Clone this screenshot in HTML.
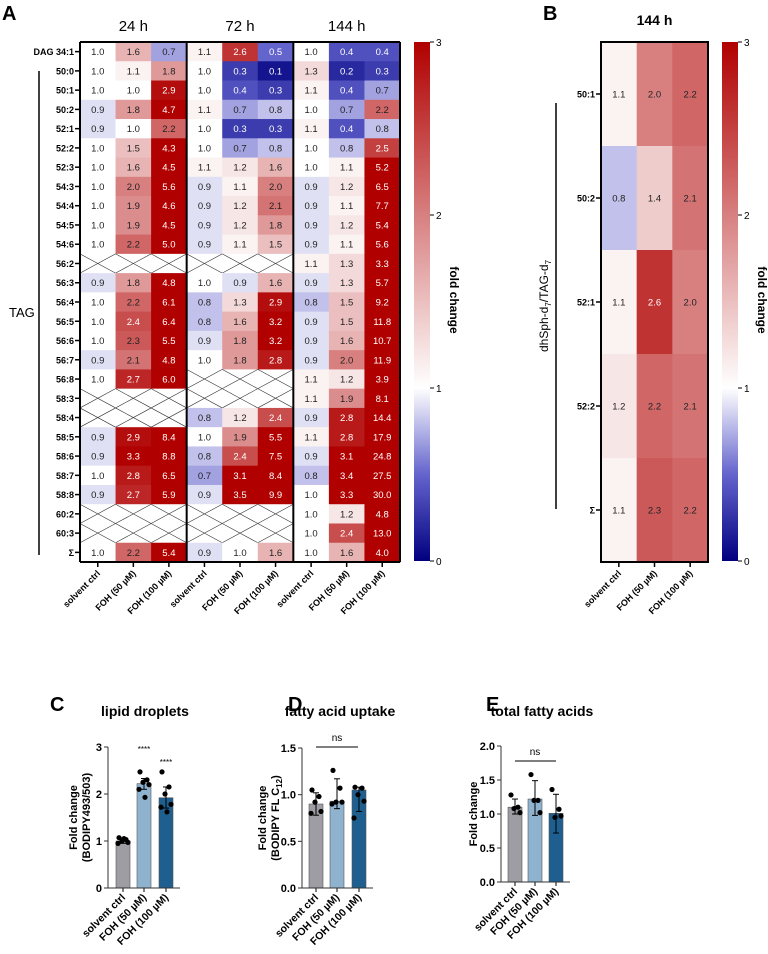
<!DOCTYPE html>
<html><head><meta charset="utf-8"><style>
body{margin:0;background:#fff}
svg{display:block;font-family:"Liberation Sans",Arial,sans-serif}
</style></head><body>
<svg id="fig" width="768" height="954" viewBox="0 0 768 954"></svg>
<script>
const rowLabels=["DAG 34:1","50:0","50:1","50:2","52:1","52:2","52:3","54:3","54:4","54:5","54:6","56:2","56:3","56:4","56:5","56:6","56:7","56:8","58:3","58:4","58:5","58:6","58:7","58:8","60:2","60:3","Σ"];
const groupLabels=["24 h","72 h","144 h"];
const colLabels=["solvent ctrl","FOH (50 µM)","FOH (100 µM)"];
const N=null;
const vals24=[[1.0,1.6,0.7],[1.0,1.1,1.8],[1.0,1.0,2.9],[0.9,1.8,4.7],[0.9,1.0,2.2],[1.0,1.5,4.3],[1.0,1.6,4.5],[1.0,2.0,5.6],[1.0,1.9,4.6],[1.0,1.9,4.5],[1.0,2.2,5.0],N,[0.9,1.8,4.8],[1.0,2.2,6.1],[1.0,2.4,6.4],[1.0,2.3,5.5],[0.9,2.1,4.8],[1.0,2.7,6.0],N,N,[0.9,2.9,8.4],[0.9,3.3,8.8],[1.0,2.8,6.5],[0.9,2.7,5.9],N,N,[1.0,2.2,5.4]];
const vals72=[[1.1,2.6,0.5],[1.0,0.3,0.1],[1.0,0.4,0.3],[1.1,0.7,0.8],[1.0,0.3,0.3],[1.0,0.7,0.8],[1.1,1.2,1.6],[0.9,1.1,2.0],[0.9,1.2,2.1],[0.9,1.2,1.8],[0.9,1.1,1.5],N,[1.0,0.9,1.6],[0.8,1.3,2.9],[0.8,1.6,3.2],[0.9,1.8,3.2],[1.0,1.8,2.8],N,N,[0.8,1.2,2.4],[1.0,1.9,5.5],[0.8,2.4,7.5],[0.7,3.1,8.4],[0.9,3.5,9.9],N,N,[0.9,1.0,1.6]];
const vals144=[[1.0,0.4,0.4],[1.3,0.2,0.3],[1.1,0.4,0.7],[1.0,0.7,2.2],[1.1,0.4,0.8],[1.0,0.8,2.5],[1.0,1.1,5.2],[0.9,1.2,6.5],[0.9,1.1,7.7],[0.9,1.2,5.4],[0.9,1.1,5.6],[1.1,1.3,3.3],[0.9,1.3,5.7],[0.8,1.5,9.2],[0.9,1.5,11.8],[0.9,1.6,10.7],[0.9,2.0,11.9],[1.1,1.2,3.9],[1.1,1.9,8.1],[0.9,2.8,14.4],[1.1,2.8,17.9],[0.9,3.1,24.8],[0.8,3.4,27.5],[1.0,3.3,30.0],[1.0,1.2,4.8],[1.0,2.4,13.0],[1.0,1.6,4.0]];
const bRowLabels=["50:1","50:2","52:1","52:2","Σ"];
const bVals=[[1.1,2.0,2.2],[0.8,1.4,2.1],[1.1,2.6,2.0],[1.2,2.2,2.1],[1.1,2.3,2.2]];
const cMeans=[1.0,2.22,1.92], cErrLo=[0.95,2.1,1.7], cErrHi=[1.05,2.33,2.15];
const cPts=[[1.07,1.03,1.0,0.97,0.95,1.05],[2.47,2.3,2.25,2.2,2.1,1.93],[2.47,2.15,2.0,1.78,1.72,1.62]];
const dMeans=[0.9,0.93,1.05], dErrLo=[0.78,0.85,0.82], dErrHi=[1.02,1.17,1.08];
const dPts=[[1.05,0.98,0.92,0.82,0.8],[1.26,1.07,0.92,0.92,0.9],[1.08,1.07,1.0,0.93,0.75]];
const eMeans=[1.1,1.22,1.01], eErrLo=[1.0,0.98,0.72], eErrHi=[1.22,1.49,1.29];
const ePts=[[1.28,1.1,1.08,1.02],[1.58,1.2,1.2,1.02],[1.36,1.07,0.95,0.97]];

const svg=document.getElementById('fig');
const NS='http://www.w3.org/2000/svg';
function mk(tag,attrs,parent,text){const e=document.createElementNS(NS,tag);for(const k in attrs)e.setAttribute(k,attrs[k]);if(text!==undefined)e.textContent=text;(parent||svg).appendChild(e);return e;}
function lerp(a,b,t){return Math.round(a+(b-a)*t);}
function color(v){
  if(v>=1){const t=Math.min((v-1)/2,1);return `rgb(${lerp(255,176,t)},${lerp(255,0,t)},${lerp(255,0,t)})`;}
  if(v>=0.5){const t=(1-v)/0.5;return `rgb(${lerp(255,100,t)},${lerp(255,100,t)},${lerp(255,205,t)})`;}
  const t=(0.5-v)/0.5;return `rgb(${lerp(100,0,t)},${lerp(100,0,t)},${lerp(205,128,t)})`;
}
function txtCol(v){return (v>=2.4||v<=0.5)?'#fff':'#222';}
const defs=mk('defs',{});
const lg=mk('linearGradient',{id:'cbar',x1:0,y1:0,x2:0,y2:1},defs);
[[0,'#b00000'],[0.6667,'#ffffff'],[0.8333,'rgb(100,100,205)'],[1,'#000080']].forEach(s=>mk('stop',{offset:s[0],'stop-color':s[1]},lg));

// ---- Panel A
mk('text',{x:2,y:20,'font-size':20,'font-weight':'bold'},svg,'A');
const ax0=80,ax1=400,ay0=42,ay1=562;
const nR=rowLabels.length, rh=(ay1-ay0)/nR, cw=(ax1-ax0)/9;
const ay=i=>ay0+i*rh, axc=(g,c)=>ax0+(g*3+c)*cw;
const groups=[vals24,vals72,vals144];
const gA=mk('g',{});


groups.forEach((vals,g)=>{
  mk('text',{x:ax0+(g*3+1.5)*cw,y:31,'font-size':15,'text-anchor':'middle'},gA,groupLabels[g]);
  vals.forEach((row,i)=>{
    for(let c=0;c<3;c++){
      const x=axc(g,c),y=ay(i);
      if(row===null){
        mk('rect',{x:x,y:y,width:cw,height:rh,fill:'#fff'},gA);
        mk('path',{d:`M${x},${y}L${x+cw},${y+rh}M${x+cw},${y}L${x},${y+rh}`,stroke:'#333','stroke-width':0.6},gA);
      }else{
        const v=row[c];
        const r=mk('rect',{x:x,y:y,width:cw+0.4,height:rh+0.4,fill:color(v)},gA);
        
        
        mk('text',{x:x+cw/2,y:y+rh/2+3.5,'font-size':9.5,'text-anchor':'middle',fill:txtCol(v)},gA,v.toFixed(1));
      }
    }
  });
});
for(let g=0;g<=3;g++)mk('line',{x1:ax0+g*3*cw,y1:ay0,x2:ax0+g*3*cw,y2:ay1,stroke:'#000','stroke-width':2},gA);
mk('line',{x1:ax0,y1:ay0,x2:ax1,y2:ay0,stroke:'#000','stroke-width':2},gA);
mk('line',{x1:ax0,y1:ay1,x2:ax1,y2:ay1,stroke:'#000','stroke-width':2},gA);
rowLabels.forEach((l,i)=>{
  const yc=ay(i)+rh/2;
  mk('line',{x1:ax0-5,y1:yc,x2:ax0,y2:yc,stroke:'#000','stroke-width':1.5},gA);
  mk('text',{x:ax0-6,y:yc+3.5,'font-size':9,'font-weight':'bold','text-anchor':'end'},gA,l);
});
for(let g=0;g<3;g++)for(let c=0;c<3;c++){
  const xc=axc(g,c)+cw/2;
  mk('line',{x1:xc,y1:ay1,x2:xc,y2:ay1+5,stroke:'#000','stroke-width':1.5},gA);
  mk('text',{x:xc+3,y:ay1+12,'font-size':9,'font-weight':'bold','text-anchor':'end',transform:`rotate(-45 ${xc+3} ${ay1+12})`},gA,colLabels[c]);
}
mk('line',{x1:39,y1:71,x2:39,y2:555,stroke:'#000','stroke-width':1.5},gA);
mk('text',{x:9,y:317,'font-size':13},gA,'TAG');
function colorbar(x,label){
  const g=mk('g',{});
  
  
  mk('rect',{x:x,y:ay0,width:16,height:ay1-ay0-1,fill:'url(#cbar)'},g);
  [3,2,1,0].forEach(t=>{const y=ay0+(3-t)/3*(ay1-ay0-1);
    mk('line',{x1:x+16,y1:y,x2:x+20,y2:y,stroke:'#000','stroke-width':1},g);
    mk('text',{x:x+22,y:y+4,'font-size':10},g,String(t));});
  mk('text',{x:x+36,y:300,'font-size':12,'font-weight':'bold','text-anchor':'middle',transform:`rotate(90 ${x+36} 300)`},g,label);
}
colorbar(414,'fold change');

// ---- Panel B
mk('text',{x:543,y:20,'font-size':20,'font-weight':'bold'},svg,'B');
const bx0=601,bx1=708,bcw=(bx1-bx0)/3,brh=(ay1-ay0)/5;
mk('text',{x:bx0+1.5*bcw,y:25,'font-size':14,'font-weight':'bold','text-anchor':'middle'},svg,'144 h');
const gB=mk('g',{});


bVals.forEach((row,i)=>{row.forEach((v,c)=>{
  const x=bx0+c*bcw,y=ay0+i*brh;
  const r=mk('rect',{x:x,y:y,width:bcw+0.4,height:brh+0.4,fill:color(v)},gB);
  
  
  mk('text',{x:x+bcw/2,y:y+brh/2+3.5,'font-size':9.5,'text-anchor':'middle',fill:txtCol(v)},gB,v.toFixed(1));
});
  const yc=ay0+(i+0.5)*brh;
  mk('line',{x1:bx0-5,y1:yc,x2:bx0,y2:yc,stroke:'#000','stroke-width':1.5},gB);
  mk('text',{x:bx0-6,y:yc+3.5,'font-size':9,'font-weight':'bold','text-anchor':'end'},gB,bRowLabels[i]);
});
mk('rect',{x:bx0,y:ay0,width:bx1-bx0,height:ay1-ay0,fill:'none',stroke:'#000','stroke-width':2},gB);
colLabels.forEach((l,c)=>{const xc=bx0+(c+0.5)*bcw;
  mk('line',{x1:xc,y1:ay1,x2:xc,y2:ay1+5,stroke:'#000','stroke-width':1.5},gB);
  mk('text',{x:xc+3,y:ay1+12,'font-size':9,'font-weight':'bold','text-anchor':'end',transform:`rotate(-45 ${xc+3} ${ay1+12})`},gB,l);});
mk('line',{x1:556,y1:103,x2:556,y2:509,stroke:'#000','stroke-width':1.5},gB);
const yt=mk('text',{x:548,y:306,'font-size':12,'text-anchor':'middle',transform:'rotate(-90 548 306)'},gB);
yt.innerHTML='dhSph-d<tspan font-size="8" dy="3">7</tspan><tspan dy="-3">/TAG-d</tspan><tspan font-size="8" dy="3">7</tspan>';
colorbar(722,'fold change');

// ---- Bar charts
const barCols=['#9d9da3','#8fb3cf','#1f5f8f'];
const jit=[-4,3,-1,5,-5,1];
function barChart(o){
  const g=mk('g',{});
  
  
  const yS=v=>o.y0-(v/o.max)*(o.y0-o.yTop);
  mk('text',{x:o.letterX,y:711,'font-size':20,'font-weight':'bold'},g,o.letter);
  mk('text',{x:o.titleX,y:716,'font-size':14,'font-weight':'bold','text-anchor':'middle'},g,o.title);
  o.means.forEach((m,i)=>{
    const xc=o.xs[i];
    const b=mk('rect',{x:xc-7,y:yS(m),width:14,height:o.y0-yS(m),fill:barCols[i],stroke:'#555','stroke-width':0.6},g);
    
    
    mk('line',{x1:xc,y1:yS(o.lo[i]),x2:xc,y2:yS(o.hi[i]),stroke:'#000','stroke-width':1},g);
    [o.lo[i],o.hi[i]].forEach(v=>mk('line',{x1:xc-3,y1:yS(v),x2:xc+3,y2:yS(v),stroke:'#000','stroke-width':1},g));
    o.pts[i].forEach((p,k)=>{const c=mk('circle',{cx:xc+jit[k%6],cy:yS(p),r:2.6,fill:'#000'},g);
      
      });
    mk('line',{x1:xc,y1:o.y0,x2:xc,y2:o.y0+4,stroke:'#000','stroke-width':1},g);
    mk('text',{x:xc+3,y:o.y0+10,'font-size':10.5,'font-weight':'bold','text-anchor':'end',transform:`rotate(-45 ${xc+3} ${o.y0+10})`},g,colLabels[i]);
  });
  mk('line',{x1:o.ax,y1:o.yTop,x2:o.ax,y2:o.y0,stroke:'#333','stroke-width':1},g);
  mk('line',{x1:o.ax,y1:o.y0,x2:o.xs[2]+14,y2:o.y0,stroke:'#333','stroke-width':1},g);
  o.ticks.forEach(t=>{const y=yS(t);
    mk('line',{x1:o.ax-4,y1:y,x2:o.ax,y2:y,stroke:'#333','stroke-width':1},g);
    mk('text',{x:o.ax-6,y:y+4,'font-size':11,'font-weight':'bold','text-anchor':'end'},g,o.tickFmt(t));});
  const yl=mk('text',{x:0,y:0,'font-size':11,'font-weight':'bold','text-anchor':'middle',transform:`translate(${o.ylX} ${(o.yTop+o.y0)/2}) rotate(-90)`},g);
  yl.innerHTML=o.ylabel;
  if(o.sig)o.sig(g,yS);
}
barChart({name:'lipid-droplets-chart',letter:'C',letterX:50,title:'lipid droplets',titleX:145,ax:108,y0:888,yTop:747,max:3,xs:[123,144,166],
  means:cMeans,lo:cErrLo,hi:cErrHi,pts:cPts,ticks:[0,1,2,3],tickFmt:t=>String(t),ylX:79,
  ylabel:'<tspan x="0" dy="-2">Fold change</tspan><tspan x="0" dy="13">(BODIPY493/503)</tspan>',
  sig:(g,yS)=>{mk('text',{x:144,y:752,'font-size':8,'text-anchor':'middle'},g,'****');mk('text',{x:166,y:765,'font-size':8,'text-anchor':'middle'},g,'****');}});
barChart({name:'fatty-acid-uptake-chart',letter:'D',letterX:288,title:'fatty acid uptake',titleX:340,ax:302,y0:888,yTop:748,max:1.5,xs:[316,337,359],
  means:dMeans,lo:dErrLo,hi:dErrHi,pts:dPts,ticks:[0,0.5,1.0,1.5],tickFmt:t=>t.toFixed(1),ylX:268,
  ylabel:'<tspan x="0" dy="-2">Fold change</tspan><tspan x="0" dy="13">(BODIPY FL C</tspan><tspan font-size="8" dy="3">12</tspan><tspan dy="-3">)</tspan>',
  sig:(g)=>{mk('line',{x1:316,y1:747,x2:358,y2:747,stroke:'#333','stroke-width':1.2},g);mk('text',{x:337,y:741,'font-size':10,'text-anchor':'middle'},g,'ns');}});
barChart({name:'total-fatty-acids-chart',letter:'E',letterX:486,title:'total fatty acids',titleX:542,ax:501,y0:882,yTop:746,max:2,xs:[515,535,556],
  means:eMeans,lo:eErrLo,hi:eErrHi,pts:ePts,ticks:[0,0.5,1.0,1.5,2.0],tickFmt:t=>t.toFixed(1),ylX:473,
  ylabel:'<tspan x="0" dy="4">Fold change</tspan>',
  sig:(g)=>{mk('line',{x1:515,y1:761,x2:556,y2:761,stroke:'#333','stroke-width':1.2},g);mk('text',{x:535,y:755,'font-size':10,'text-anchor':'middle'},g,'ns');}});
</script>
</body></html>
